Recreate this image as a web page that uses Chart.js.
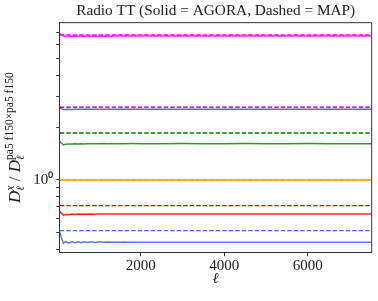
<!DOCTYPE html>
<html>
<head>
<meta charset="utf-8">
<script src="https://cdn.jsdelivr.net/npm/chart.js@4.4.1/dist/chart.umd.min.js"></script>
<style>
html,body{margin:0;padding:0;background:#fff;}
#wrap{width:378px;height:301px;position:relative;}
</style>
</head>
<body>
<div id="wrap"><canvas id="c" width="378" height="301"></canvas></div>
<script>
// ---- data ----
const ell = [60, 100, 150, 200, 275, 350, 425, 500, 575, 650, 725, 800, 900, 1000, 1100, 1200, 1400, 1600, 1800, 2000, 2500, 3000, 3500, 4000, 4500, 5000, 5500, 6000, 6500, 7000, 7530];
const agoraMagenta = [6.95, 6.82, 6.72, 6.70, 6.69, 6.70, 6.69, 6.70, 6.70, 6.69, 6.70, 6.70, 6.70, 6.71, 6.71, 6.71, 6.72, 6.72, 6.72, 6.72, 6.72, 6.72, 6.72, 6.72, 6.72, 6.72, 6.72, 6.72, 6.72, 6.72, 6.72];
const agoraPurple = [2.62, 2.57, 2.54, 2.545, 2.55, 2.545, 2.55, 2.548, 2.552, 2.548, 2.551, 2.549, 2.551, 2.55, 2.551, 2.55, 2.551, 2.55, 2.55, 2.55, 2.551, 2.55, 2.55, 2.55, 2.55, 2.55, 2.55, 2.55, 2.55, 2.55, 2.55];
const agoraGreen = [1.66, 1.63, 1.59, 1.605, 1.612, 1.608, 1.616, 1.611, 1.617, 1.612, 1.617, 1.613, 1.617, 1.614, 1.618, 1.615, 1.617, 1.616, 1.618, 1.617, 1.617, 1.618, 1.617, 1.617, 1.618, 1.617, 1.617, 1.618, 1.617, 1.617, 1.617];
const agoraOrange = [1, 1, 1, 1, 1, 1, 1, 1, 1, 1, 1, 1, 1, 1, 1, 1, 1, 1, 1, 1, 1, 1, 1, 1, 1, 1, 1, 1, 1, 1, 1];
const agoraRed = [0.66, 0.645, 0.628, 0.634, 0.632, 0.638, 0.634, 0.638, 0.635, 0.638, 0.636, 0.638, 0.636, 0.638, 0.637, 0.638, 0.637, 0.638, 0.637, 0.638, 0.638, 0.638, 0.638, 0.638, 0.638, 0.638, 0.638, 0.638, 0.638, 0.638, 0.638];
const agoraBlue = [0.505, 0.465, 0.433, 0.443, 0.434, 0.443, 0.436, 0.442, 0.436, 0.441, 0.437, 0.441, 0.437, 0.441, 0.438, 0.440, 0.438, 0.440, 0.438, 0.439, 0.438, 0.439, 0.438, 0.439, 0.438, 0.438, 0.439, 0.438, 0.438, 0.439, 0.438];

const mapEll = [60, 7530];
const mapMagenta = [6.81, 6.81];
const mapPurple = [2.62, 2.62];
const mapGreen = [1.862, 1.862];
const mapOrange = [1.0, 1.0];
const mapRed = [0.712, 0.712];
const mapBlue = [0.511, 0.511];

const xTicks = [2000, 4000, 6000];
const yTicks = [0.4, 0.5, 0.6, 0.7, 0.8, 0.9, 1, 2, 3, 4, 5, 6, 7];
const yTickLabels = {1: '10\u2070'};

const titleText = 'Radio TT (Solid = AGORA, Dashed = MAP)';
const xLabel = '\u2113';

// ---- build ----
function pts(xs, ys){ return xs.map((x,i)=>({x:x, y:ys[i]})); }
function solid(data, color){
  return {data: pts(ell, data), borderColor: color, borderWidth: 1.5, pointRadius: 0, tension: 0, fill: false};
}
function dashed(data, color){
  return {data: pts(mapEll, data), borderColor: color, borderWidth: 1.3, borderDash: [4.5, 2], pointRadius: 0, tension: 0, fill: false};
}

// dataset index 0 is drawn on top in Chart.js
const datasets = [
  solid(agoraOrange, '#ffa500'),
  dashed(mapMagenta, '#ff00ff'),
  dashed(mapPurple, '#800080'),
  dashed(mapGreen, '#008000'),
  dashed(mapRed, '#ff0000'),
  dashed(mapBlue, '#4169e1'),
  dashed(mapOrange, '#ffa500'),
  solid(agoraMagenta, 'rgba(255,0,255,0.85)'),
  solid(agoraPurple, 'rgba(128,0,128,0.7)'),
  solid(agoraGreen, 'rgba(0,128,0,0.8)'),
  solid(agoraRed, 'rgba(255,0,0,0.85)'),
  solid(agoraBlue, 'rgba(65,105,225,0.85)'),
];

const framePlugin = {
  id: 'frame',
  afterDraw(chart){
    const ctx = chart.ctx, a = chart.chartArea;
    ctx.save();
    ctx.strokeStyle = '#333';
    ctx.lineWidth = 1;
    ctx.beginPath();
    ctx.moveTo(a.left, a.top); ctx.lineTo(a.right, a.top); ctx.lineTo(a.right, a.bottom);
    ctx.stroke();
    // y axis label with sub/superscripts, rotated
    const cy = (a.top + a.bottom) / 2;
    const main = "italic 17px 'Liberation Serif'";
    const ellF = "italic 11px 'DejaVu Serif'";
    const scr = "11.5px 'Liberation Serif'";
    const scrI = "italic 12px 'Liberation Serif'";
    const slash = "17px 'Liberation Serif'";
    const parts = [
      {t:'D', f:main, dy:0, adv:true},
      {t:'\u2113', f:ellF, dy:4, adv:false},
      {t:'x', f:scrI, dy:-6.5, adv:true},
      {t:' / ', f:slash, dy:0, adv:true},
      {t:'D', f:main, dy:0, adv:true},
      {t:'\u2113', f:ellF, dy:4, adv:false},
      {t:'pa5 f150\u00d7pa5 f150', f:scr, dy:-7, adv:true},
    ];
    parts.forEach(p=>{ ctx.font = p.f; p.w = ctx.measureText(p.t).width; });
    let i=0; const layout=[]; let x=0;
    while(i<parts.length){
      const p = parts[i];
      if(!p.adv){
        const q = parts[i+1];
        layout.push({p:p, x:x}); layout.push({p:q, x:x});
        x += Math.max(p.w, q.w); i+=2;
      } else { layout.push({p:p, x:x}); x += p.w; i++; }
    }
    const total = x;
    ctx.translate(20, cy + total/2);
    ctx.rotate(-Math.PI/2);
    ctx.fillStyle = '#222';
    ctx.textBaseline = 'alphabetic';
    ctx.textAlign = 'left';
    layout.forEach(l=>{ ctx.font = l.p.f; ctx.fillText(l.p.t, l.x, l.p.dy); });
    ctx.restore();
  }
};

new Chart(document.getElementById('c'), {
  type: 'line',
  data: {datasets: datasets},
  options: {
    responsive: false,
    animation: false,
    devicePixelRatio: 1,
    layout: {padding: {top: 0, right: 6.3, left: 0, bottom: 0}},
    plugins: {
      legend: {display: false},
      tooltip: {enabled: false},
      title: {display: true, text: titleText, fullSize: false, color: '#222',
              font: {family: 'Liberation Serif', size: 15.3, weight: 'normal', lineHeight: 1.2},
              padding: {top: 2, bottom: 2.3}}
    },
    scales: {
      x: {
        type: 'linear', min: 60, max: 7530,
        afterBuildTicks: s => { s.ticks = xTicks.map(v=>({value:v})); },
        afterFit: s => { s.height = 48.3; },
        ticks: {font: {family: 'Liberation Serif', size: 15}, color: '#222', padding: 1, maxRotation: 0, autoSkip: false,
                callback: v => String(v)},
        grid: {drawOnChartArea: false, drawTicks: true, tickLength: 3.5, color: '#333', tickColor: '#333'},
        border: {display: true, color: '#333', width: 1},
        title: {display: true, text: xLabel, color: '#222', font: {family: 'DejaVu Serif', size: 15, style: 'italic'}, padding: {top: 0, bottom: 12.5}}
      },
      y: {
        type: 'logarithmic', min: 0.382, max: 8.02,
        afterBuildTicks: s => { s.ticks = yTicks.map(v=>({value:v, major: v===1})); },
        afterFit: s => { s.width = 59.7; },
        ticks: {font: {family: 'Liberation Serif', size: 15}, color: '#222', padding: 3, autoSkip: false,
                callback: v => yTickLabels[v] || ''},
        grid: {drawOnChartArea: false, drawTicks: true, tickLength: 3.5, color: '#333', tickColor: '#333'},
        border: {display: true, color: '#333', width: 1}
      }
    }
  },
  plugins: [framePlugin]
});
</script>
</body>
</html>
